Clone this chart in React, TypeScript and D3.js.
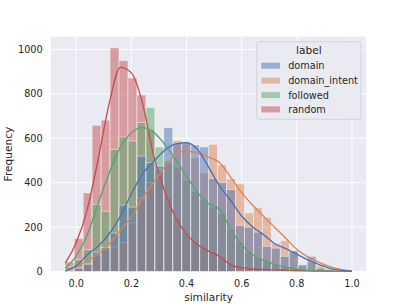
import React from 'react';
import * as d3 from 'd3';

// ---------- data ----------
const labels = ['domain', 'domain_intent', 'followed', 'random'];
const colors = ['#4c72b0', '#dd8452', '#55a868', '#c44e52'];

const binMin = -0.04;
const binMax = 1.0;
const binCount = 32;

const domainCounts = [5, 15, 33, 87, 108, 173, 299, 290, 520, 490, 475, 648, 578, 581, 570, 561, 419, 400, 369, 207, 199, 177, 113, 105, 68, 94, 30, 68, 15, 8, 4, 2];
const domainIntentCounts = [8, 15, 33, 75, 98, 110, 131, 219, 330, 400, 460, 490, 590, 575, 513, 445, 573, 480, 418, 395, 264, 287, 244, 128, 139, 85, 28, 40, 27, 15, 8, 5];
const followedCounts = [20, 53, 98, 302, 271, 550, 606, 588, 671, 739, 561, 500, 470, 410, 360, 325, 290, 260, 190, 130, 85, 60, 45, 30, 18, 10, 6, 4, 2, 1, 1, 0];
const randomCounts = [42, 148, 354, 659, 682, 1008, 950, 872, 795, 640, 450, 330, 240, 175, 130, 105, 85, 62, 30, 18, 12, 10, 8, 7, 6, 5, 4, 3, 2, 2, 1, 1];

const kdeGrid = [-0.04, 0.0, 0.04, 0.08, 0.12, 0.16, 0.2, 0.24, 0.28, 0.32, 0.36, 0.4, 0.44, 0.48, 0.52, 0.56, 0.6, 0.64, 0.68, 0.72, 0.76, 0.8, 0.84, 0.88, 0.92, 0.96, 1.0];
const domainKde = [3, 25, 75, 115, 170, 250, 350, 440, 495, 545, 575, 580, 550, 470, 385, 320, 250, 200, 165, 125, 103, 78, 52, 32, 14, 5, 1];
const domainIntentKde = [3, 20, 48, 80, 125, 185, 245, 330, 400, 470, 525, 543, 532, 515, 490, 425, 355, 298, 248, 198, 150, 100, 66, 42, 22, 9, 2];
const followedKde = [15, 70, 165, 310, 445, 560, 625, 648, 628, 575, 505, 430, 355, 305, 280, 190, 120, 75, 50, 32, 19, 10, 5, 2, 1, 0.5, 0.2];
const randomKde = [38, 130, 280, 510, 760, 920, 895, 760, 525, 365, 245, 168, 120, 92, 68, 30, 17, 11, 9, 7, 6, 4, 3, 2, 1, 0.5, 0.2];

const xTicks = [0, 0.2, 0.4, 0.6, 0.8, 1.0];
const yTicks = [0, 200, 400, 600, 800, 1000];

const seriesCounts = [domainCounts, domainIntentCounts, followedCounts, randomCounts];
const seriesKde = [domainKde, domainIntentKde, followedKde, randomKde];

// ---------- chart ----------
export default function App() {
  const W = 407, H = 305;
  const left = 50.9, right = 366.3, top = 36.6, bottom = 271.45;
  const font = 'DejaVu Sans';
  const textColor = '#262626';

  const span = binMax - binMin;
  const edges = d3.range(binCount + 1).map(i => binMin + (i * span) / binCount);
  const x = d3.scaleLinear().domain([binMin - 0.05 * span, binMax + 0.05 * span]).range([left, right]);
  const maxCount = d3.max(seriesCounts.flat()) as number;
  const y = d3.scaleLinear().domain([0, maxCount * 1.05]).range([bottom, top]);

  const line = d3.line<number>()
    .x((_, i) => x(kdeGrid[i]))
    .y(d => y(d))
    .curve(d3.curveMonotoneX);

  const order = [3, 2, 1, 0];
  const fmtX = d3.format('.1f');

  const legX = 256.7, legY = 41.7, legW = 104.3, legH = 77.6;
  const rowY = [65.7, 80.6, 95.1, 109.4];

  return (
    <svg width={W} height={H} style={{ position: 'absolute', left: 0, top: 0, background: '#ffffff' }}
      fontFamily={font}>
      <rect x={0} y={0} width={W} height={H} fill="#ffffff" />
      <rect x={left} y={top} width={right - left} height={bottom - top} fill="#eaeaf2" />
      {xTicks.map(t => (
        <line key={'gx' + t} x1={x(t)} x2={x(t)} y1={top} y2={bottom} stroke="#ffffff" strokeWidth={0.9} />
      ))}
      {yTicks.map(t => (
        <line key={'gy' + t} x1={left} x2={right} y1={y(t)} y2={y(t)} stroke="#ffffff" strokeWidth={0.9} />
      ))}

      {order.map(s => (
        <g key={'bars' + s} fill={colors[s]} fillOpacity={0.5} stroke="#ffffff" strokeOpacity={0.5} strokeWidth={0.9}>
          {seriesCounts[s].map((c, i) => (
            <rect key={i}
              x={x(edges[i])}
              y={y(c)}
              width={x(edges[i + 1]) - x(edges[i])}
              height={y(0) - y(c)} />
          ))}
        </g>
      ))}

      {order.map(s => (
        <path key={'kde' + s} d={line(seriesKde[s]) || ''} fill="none" stroke={colors[s]} strokeWidth={1.35} />
      ))}

      {xTicks.map(t => (
        <text key={'tx' + t} x={x(t)} y={287.2} textAnchor="middle" fontSize={9.7} fill={textColor}>{fmtX(t)}</text>
      ))}
      {yTicks.map(t => (
        <text key={'ty' + t} x={42.7} y={y(t)} dy="0.36em" textAnchor="end" fontSize={9.7} fill={textColor}>{t}</text>
      ))}
      <text x={(left + right) / 2} y={301.2} textAnchor="middle" fontSize={10.6} fill={textColor}>similarity</text>
      <text transform={`translate(12.3,${(top + bottom) / 2}) rotate(-90)`} textAnchor="middle" fontSize={10.6} fill={textColor}>Frequency</text>

      <rect x={legX} y={legY} width={legW} height={legH} rx={2.5} fill="#eaeaf2" fillOpacity={0.8}
        stroke="#cccccc" strokeOpacity={0.8} strokeWidth={0.9} />
      <text x={legX + legW / 2} y={54} textAnchor="middle" fontSize={10.6} fill={textColor}>label</text>
      {labels.map((lab, i) => (
        <g key={lab}>
          <rect x={261} y={rowY[i] - 3.4} width={19.4} height={6.8} fill={colors[i]} fillOpacity={0.5}
            stroke="#ffffff" strokeOpacity={0.5} strokeWidth={0.9} />
          <text x={288.2} y={rowY[i] + 3.4} fontSize={9.7} fill={textColor}>{lab}</text>
        </g>
      ))}
    </svg>
  );
}
